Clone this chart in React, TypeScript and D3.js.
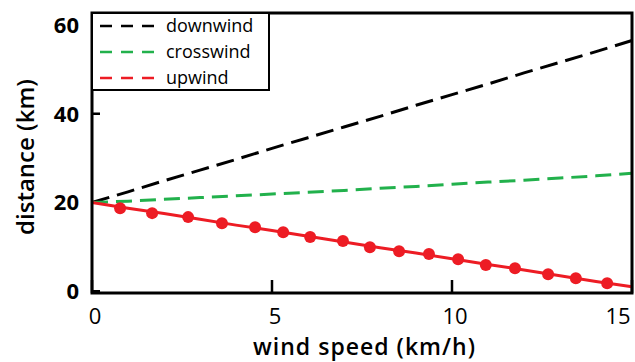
import React, {useRef, useEffect} from 'react';
import * as d3 from 'd3';

// wind speed (km/h) and distance (km)
const windSpeed = [0, 1, 2, 3, 4, 5, 6, 7, 8, 9, 10, 11, 12, 13, 14, 15];
const downwind = [20, 22.4, 24.9, 27.3, 29.7, 32.2, 34.6, 37.0, 39.4, 41.9, 44.3, 46.7, 49.2, 51.6, 54.0, 56.5];
const crosswind = [20, 20.3, 20.7, 21.1, 21.5, 21.9, 22.3, 22.7, 23.2, 23.6, 24.1, 24.6, 25.0, 25.5, 26.0, 26.6];
const upwind = [20, 18.7, 17.5, 16.2, 14.9, 13.7, 12.4, 11.1, 9.8, 8.6, 7.3, 6.0, 4.8, 3.5, 2.2, 1.0];

// measured points on the upwind curve
const markerSpeed = [0.78, 1.67, 2.67, 3.61, 4.53, 5.31, 6.06, 6.97, 7.72, 8.53, 9.36, 10.17, 10.94, 11.75, 12.67, 13.44, 14.31];
const markerDistance = [18.7, 17.6, 16.7, 15.3, 14.4, 13.3, 12.2, 11.3, 9.9, 9.0, 8.4, 7.2, 5.9, 5.2, 3.8, 2.9, 1.8];

const xTicks = [0, 5, 10, 15];
const yTicks = [0, 20, 40, 60];

const seriesNames = ['downwind', 'crosswind', 'upwind'];
const seriesColors = ['#000000', '#22b14c', '#ed1c24'];

const App = () => {
    const svgRef = useRef<SVGSVGElement>(null);
    const width = 635, height = 362;
    const margin = {left: 92, right: 3, top: 13, bottom: 69};

    useEffect(() => {
        const svg = d3.select(svgRef.current);
        svg.selectAll('*').remove();

        const x = d3.scaleLinear().domain([0, 15]).range([margin.left, width - margin.right]);
        const y = d3.scaleLinear().domain([-0.4, 62.7]).range([height - margin.bottom, margin.top]);

        const line = d3.line<number>()
            .x((d, i) => x(windSpeed[i]))
            .y(d => y(d));

        const font = '"Open Sans", sans-serif';

        // ticks (inside)
        svg.selectAll('.xtick').data(xTicks).enter().append('line')
            .attr('x1', d => x(d)).attr('x2', d => x(d))
            .attr('y1', y.range()[0]).attr('y2', y.range()[0] - 13)
            .attr('stroke', 'black').attr('stroke-width', 2.5);
        svg.selectAll('.ytick').data(yTicks).enter().append('line')
            .attr('x1', margin.left).attr('x2', margin.left + 8)
            .attr('y1', d => y(d)).attr('y2', d => y(d))
            .attr('stroke', 'black').attr('stroke-width', 2.5);

        // series
        svg.append('path').datum(downwind)
            .attr('d', line).attr('fill', 'none')
            .attr('stroke', seriesColors[0]).attr('stroke-width', 3)
            .attr('stroke-dasharray', '18,8');
        svg.append('path').datum(crosswind)
            .attr('d', line).attr('fill', 'none')
            .attr('stroke', seriesColors[1]).attr('stroke-width', 3)
            .attr('stroke-dasharray', '16,8');
        svg.append('path').datum(upwind)
            .attr('d', line).attr('fill', 'none')
            .attr('stroke', seriesColors[2]).attr('stroke-width', 3);
        svg.selectAll('.marker').data(markerSpeed).enter().append('circle')
            .attr('cx', d => x(d))
            .attr('cy', (d, i) => y(markerDistance[i]))
            .attr('r', 6)
            .attr('fill', seriesColors[2]);

        // frame
        svg.append('rect')
            .attr('x', margin.left).attr('y', margin.top)
            .attr('width', width - margin.left - margin.right)
            .attr('height', y.range()[0] - margin.top)
            .attr('fill', 'none').attr('stroke', 'black').attr('stroke-width', 3);

        // tick labels
        svg.selectAll('.xlabel').data(xTicks).enter().append('text')
            .attr('x', (d, i) => x(d) + (i === xTicks.length - 1 ? -14 : 3))
            .attr('y', 323.5)
            .attr('text-anchor', 'middle')
            .attr('font-family', font).attr('font-size', 22)
            .text(d => d);
        svg.selectAll('.ylabel').data(yTicks).enter().append('text')
            .attr('x', 79)
            .attr('y', d => y(d) + 8)
            .attr('text-anchor', 'end')
            .attr('font-family', font).attr('font-size', 22).attr('font-weight', 'bold')
            .text(d => d);

        // axis titles
        svg.append('text')
            .attr('x', 364).attr('y', 355)
            .attr('text-anchor', 'middle')
            .attr('font-family', font).attr('font-size', 23).attr('font-weight', 600)
            .attr('textLength', 222).attr('lengthAdjust', 'spacing')
            .text('wind speed (km/h)');
        svg.append('text')
            .attr('transform', 'translate(34,157) rotate(-90)')
            .attr('text-anchor', 'middle')
            .attr('font-family', font).attr('font-size', 24).attr('font-weight', 600)
            .text('distance (km)');

        // legend
        const legend = svg.append('g');
        legend.append('rect')
            .attr('x', margin.left).attr('y', margin.top)
            .attr('width', 177).attr('height', 77)
            .attr('fill', 'white').attr('stroke', 'black').attr('stroke-width', 2);
        seriesNames.forEach((name, i) => {
            const yy = 26 + i * 26;
            legend.append('line')
                .attr('x1', 100).attr('x2', 155)
                .attr('y1', yy).attr('y2', yy)
                .attr('stroke', seriesColors[i]).attr('stroke-width', 2.5)
                .attr('stroke-dasharray', '12,9');
            legend.append('text')
                .attr('x', 166).attr('y', yy + 6)
                .attr('font-family', font).attr('font-size', 18)
                .text(name);
        });
    }, []);

    return <svg ref={svgRef} width={width} height={height}
                style={{position: 'absolute', left: 0, top: 0, background: 'white'}}/>;
};

export default App;
